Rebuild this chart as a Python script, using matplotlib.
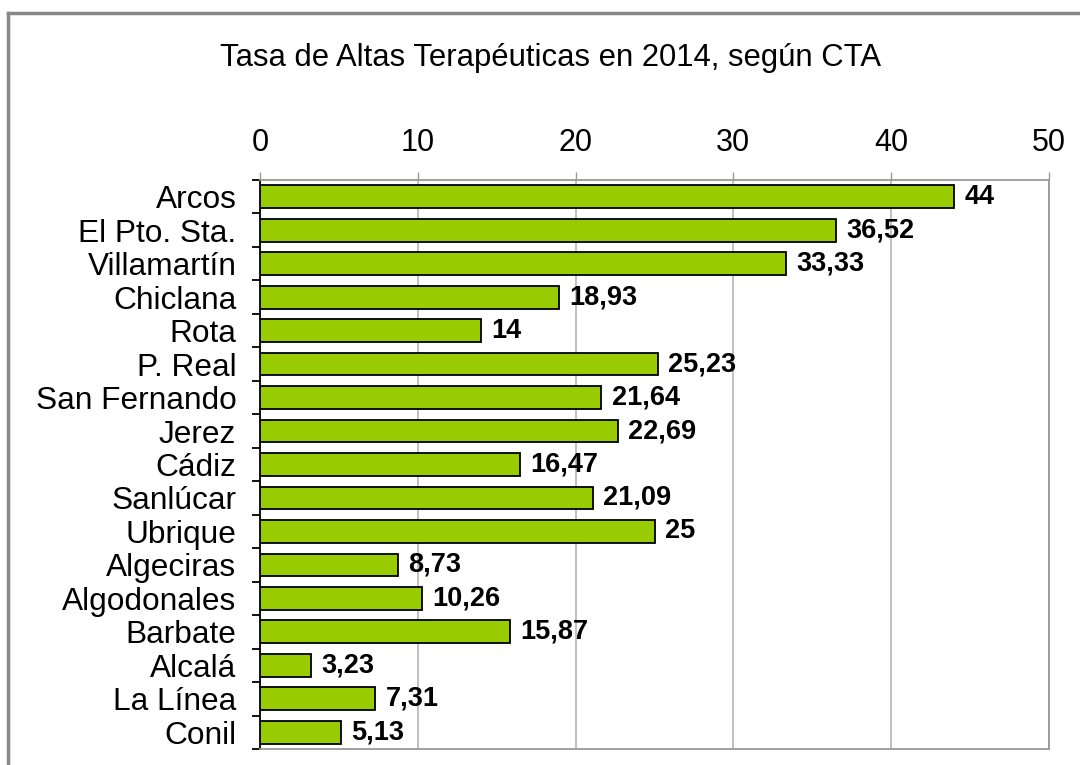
import matplotlib
matplotlib.use("Agg")
import matplotlib.pyplot as plt
from matplotlib.lines import Line2D

# data
categories = ["Arcos", "El Pto. Sta.", "Villamartín", "Chiclana", "Rota", "P. Real",
              "San Fernando", "Jerez", "Cádiz", "Sanlúcar", "Ubrique", "Algeciras",
              "Algodonales", "Barbate", "Alcalá", "La Línea", "Conil"]
values = [44, 36.52, 33.33, 18.93, 14, 25.23, 21.64, 22.69, 16.47, 21.09, 25,
          8.73, 10.26, 15.87, 3.23, 7.31, 5.13]
x_ticks = [0, 10, 20, 30, 40, 50]

plt.rcParams["font.family"] = ["Liberation Sans", "DejaVu Sans"]

fig = plt.figure(figsize=(10.8, 7.65), dpi=100)
ax = fig.add_axes([260 / 1080, 1 - 749 / 765, (1049 - 260) / 1080, (749 - 180) / 765])

n = len(categories)
ypos = list(range(n))
ax.barh(ypos, values, height=0.68, color="#99CC00", edgecolor="black", linewidth=1.3, zorder=3)

for y, v in zip(ypos, values):
    label = ("%g" % v).replace(".", ",")
    ax.text(v + 0.65, y, label, va="center", ha="left", fontsize=19.5,
            fontweight="bold", zorder=4)

ax.set_xlim(0, 50)
ax.set_ylim(n - 0.5, -0.5)
ax.xaxis.tick_top()
ax.set_xticks(x_ticks)
ax.set_xticklabels([str(t) for t in x_ticks], fontsize=22)
ax.tick_params(axis="x", direction="out", length=6, width=1, color="#999999", pad=10)

# category labels, with tick marks at the category boundaries
ax.set_yticks(ypos)
ax.set_yticklabels(categories, fontsize=22.8)
ax.tick_params(axis="y", length=0, pad=17)
ax.set_yticks([i - 0.5 for i in range(n + 1)], minor=True)
ax.tick_params(axis="y", which="minor", length=6, width=1.3, color="black", direction="out")

ax.grid(axis="x", color="#BBBBBB", linewidth=1.3, zorder=0)
for s in ["top", "right", "bottom"]:
    ax.spines[s].set_color("#999999")
    ax.spines[s].set_linewidth(1.3)
ax.spines["left"].set_color("black")
ax.spines["left"].set_linewidth(1.3)

fig.text(550 / 1080, 1 - 58 / 765, "Tasa de Altas Terapéuticas en 2014, según CTA",
         ha="center", va="center", fontsize=22.3)

# outer chart border (left and top edges only, as in the cropped image)
fig.add_artist(Line2D([8 / 1080, 8 / 1080], [0, 1 - 13 / 765], color="#888888",
                      linewidth=2.5, transform=fig.transFigure))
fig.add_artist(Line2D([8 / 1080, 1], [1 - 13 / 765, 1 - 13 / 765], color="#888888",
                      linewidth=2.5, transform=fig.transFigure))

fig.savefig("out.png", dpi=100)
